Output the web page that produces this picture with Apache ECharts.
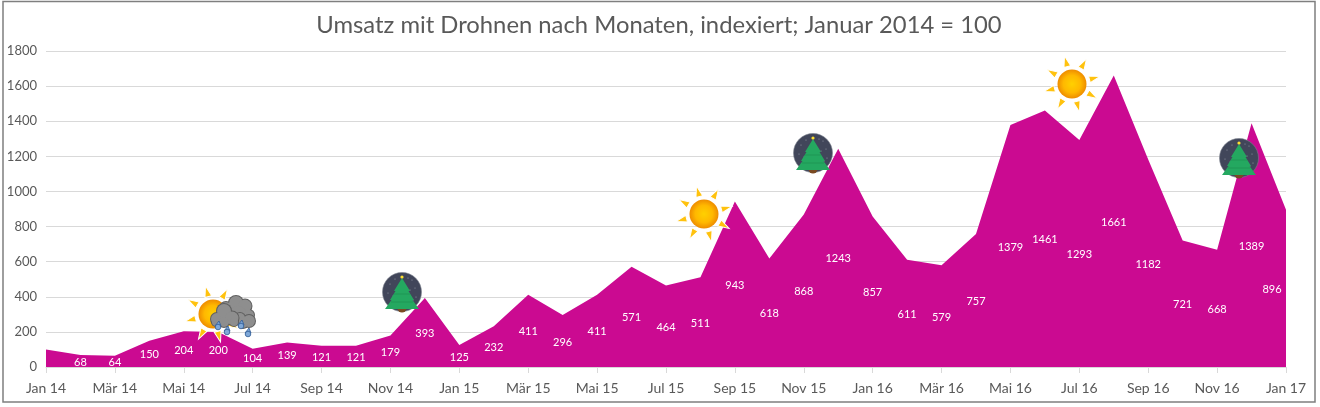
<!DOCTYPE html>
<html>
<head>
<meta charset="utf-8">
<title>Umsatz mit Drohnen</title>
<style>
html,body{margin:0;padding:0;background:#fff;}
#chart{width:1320px;height:407px;}
</style>
<script src="https://cdn.jsdelivr.net/npm/echarts@6/dist/echarts.min.js"></script>
</head>
<body>
<div id="chart"></div>
<script>
var months=["Jan 14","Feb 14","Mär 14","Apr 14","Mai 14","Jun 14","Jul 14","Aug 14","Sep 14","Okt 14","Nov 14","Dez 14",
	"Jan 15","Feb 15","Mär 15","Apr 15","Mai 15","Jun 15","Jul 15","Aug 15","Sep 15","Okt 15","Nov 15","Dez 15",
	"Jan 16","Feb 16","Mär 16","Apr 16","Mai 16","Jun 16","Jul 16","Aug 16","Sep 16","Okt 16","Nov 16","Dez 16","Jan 17"];
var umsatz=[100,68,64,150,204,200,104,139,121,121,179,393,
	125,232,411,296,411,571,464,511,943,618,868,1243,
	857,611,579,757,1379,1461,1293,1661,1182,721,668,1389,896];
var titel="Umsatz mit Drohnen nach Monaten, indexiert; Januar 2014 = 100";

var FONT="Lato";
var GREY="#595959";
var ICON_Z=20;

function rays(x,y){
	var list=[];
	for(var i=0;i<8;i++){
		list.push({
			type:"polygon",z:ICON_Z,x:x,y:y,
			rotation:(15-i*45)*Math.PI/180,
			shape:{points:[[-3.5,-18],[3.5,-18],[0,-29]]},
			style:{fill:"#ffc20e",stroke:"#fff",lineWidth:1}
		});
	}
	return list;
}
function sun(x,y){
	var list=rays(x,y);
	list.push({
		type:"circle",z:ICON_Z,
		shape:{cx:x,cy:y,r:14.5},
		style:{
			fill:new echarts.graphic.RadialGradient(0.5,0.5,0.5,[
				{offset:0,color:"#ffd000"},{offset:0.6,color:"#ffb800"},{offset:1,color:"#ee8c00"}
			])
		}
	});
	return list;
}
// eine Wolke: erst die Umrisse, dann die Fuellung drueber
function cloud(parts){
	var list=[];
	parts.forEach(function(p){
		list.push({type:"circle",z:ICON_Z,shape:{cx:p[0],cy:p[1],r:p[2]+1},style:{fill:"#5f5f5f"}});
	});
	parts.forEach(function(p){
		list.push({type:"circle",z:ICON_Z,shape:{cx:p[0],cy:p[1],r:p[2]},style:{fill:"#8e8e8e"}});
	});
	return list;
}
function drop(x,y){
	return [
		{type:"polygon",z:ICON_Z,shape:{points:[[x+1,y-5],[x+3,y],[x-3,y]]},style:{fill:"#7fa8d8",stroke:"#2f5a94",lineWidth:0.8}},
		{type:"circle",z:ICON_Z,shape:{cx:x,cy:y+1,r:2.8},style:{fill:"#7fa8d8",stroke:"#2f5a94",lineWidth:0.8}}
	];
}
function rain(){
	var list=[];
	list=list.concat(cloud([[226,308,6],[236,303,7],[245,306,6.5],[249,315,5],[238,315,9],[228,314,6]]));
	list=list.concat(cloud([[249,321,6],[243,323,5],[240,318,5]]));
	list=list.concat(cloud([[217,319,6],[224,311,7],[232,318,6.5],[224,322,5],[216,322,4],[234,322,4]]));
	list=list.concat(drop(218,326),drop(227,331),drop(241,325),drop(248,333));
	return list;
}
function tree(x,y){
	var snow=[[-12,-8],[-9,4],[10,-12],[13,-4],[8,-2],[14,5],[-14,1],[11,8],[-7,-13],[6,-14]];
	var list=[{type:"circle",z:ICON_Z,shape:{cx:x,cy:y,r:19.5},style:{fill:"#41465a",stroke:"#7b7f8c",lineWidth:0.6}}];
	snow.forEach(function(s){
		list.push({type:"circle",z:ICON_Z,shape:{cx:x+s[0],cy:y+s[1],r:0.5},style:{fill:"#a4a8b4"}});
	});
	list.push({type:"sector",z:ICON_Z,shape:{cx:x,cy:y+16,r:4.5,r0:0,startAngle:0,endAngle:Math.PI},style:{fill:"#7a4a22"}});
	list.push({
		type:"polygon",z:ICON_Z,
		shape:{points:[[x,y-14],[x+8,y-1],[x+6.5,y-1],[x+12,y+8],[x+10.5,y+8],[x+17,y+17],[x-17,y+17],[x-10.5,y+8],[x-12,y+8],[x-6.5,y-1],[x-8,y-1]]},
		style:{fill:"#24a860"}
	});
	list.push({type:"line",z:ICON_Z,shape:{x1:x-8,y1:y+2,x2:x+8,y2:y+2},style:{stroke:"#1e9654",lineWidth:1}});
	list.push({type:"line",z:ICON_Z,shape:{x1:x-11,y1:y+10,x2:x+11,y2:y+10},style:{stroke:"#1e9654",lineWidth:1}});
	list.push({type:"circle",z:ICON_Z,shape:{cx:x,cy:y-15,r:1.6},style:{fill:"#ffe030"}});
	return list;
}

// Wert steht in der Mitte der Flaeche, wie bei Excel
function renderLabel(params,api){
	var i=api.value(0);
	if(i==0){return null;}
	var top=api.coord([i,api.value(1)]);
	var base=api.coord([i,0]);
	return {
		type:"text",
		x:i==months.length-1?top[0]-14:top[0],
		y:(top[1]+base[1])/2+1,
		style:{text:String(api.value(1)),fill:"#fff",font:"11px "+FONT,textAlign:"center",textVerticalAlign:"middle"}
	};
}

var icons=[{type:"rect",shape:{x:3,y:1.5,width:1312,height:400.5},style:{fill:"none",stroke:"#7f7f7f",lineWidth:1.5},z:1}]
	.concat(sun(704,214),sun(1072,84),sun(213,314),rain(),tree(402,292),tree(813,153),tree(1239,158));

var option={
	animation:false,
	title:{
		text:titel,left:654,top:8,textAlign:"center",
		textStyle:{fontFamily:FONT,fontSize:23.8,fontWeight:"normal",color:GREY}
	},
	grid:{left:46,right:34,top:51,bottom:40},
	xAxis:{
		type:"category",boundaryGap:false,data:months,
		axisLine:{lineStyle:{color:"#d9d9d9"}},
		axisTick:{interval:1,length:6,lineStyle:{color:"#d9d9d9"}},
		axisLabel:{interval:1,margin:14,color:GREY,fontFamily:FONT,fontSize:14}
	},
	yAxis:{
		type:"value",min:0,max:1800,interval:200,
		axisLine:{show:false},axisTick:{show:false},
		splitLine:{lineStyle:{color:"#d9d9d9"}},
		axisLabel:{margin:9,color:GREY,fontFamily:FONT,fontSize:13,formatter:function(v){return String(v);}}
	},
	series:[
		{
			name:"Umsatz",type:"line",data:umsatz,symbol:"none",
			lineStyle:{width:0},areaStyle:{color:"#cb0a91",opacity:1},
			z:2
		},
		{
			name:"Werte",type:"custom",renderItem:renderLabel,z:3,silent:true,
			data:umsatz.map(function(v,i){return [i,v];})
		}
	],
	graphic:icons
};
var myChart=echarts.init(document.getElementById("chart"),null,{renderer:"canvas"});
myChart.setOption(option);
</script>
</body>
</html>
